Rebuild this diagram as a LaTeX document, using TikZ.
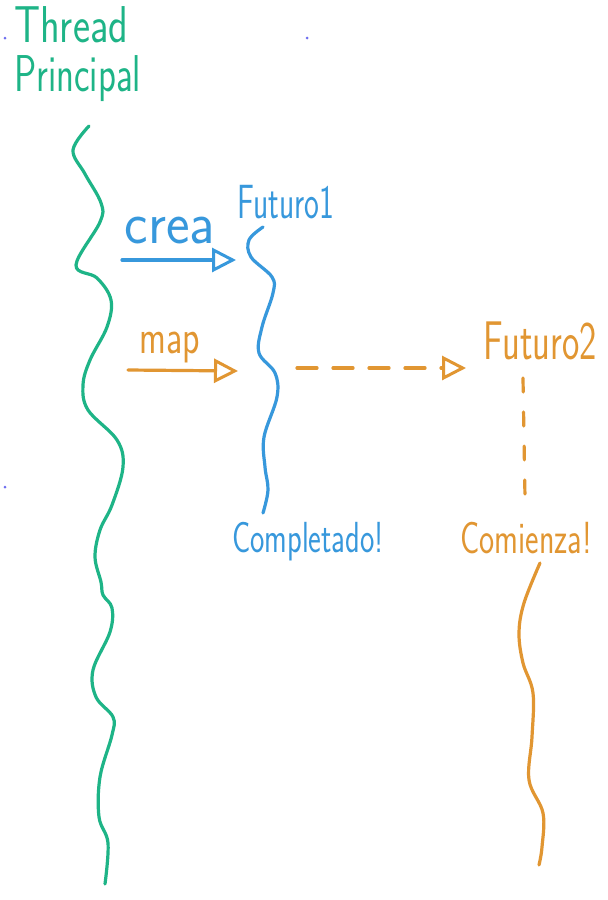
\documentclass[tikz,border=0pt]{standalone}
\usepackage{tikz}
\usetikzlibrary{arrows.meta}

\definecolor{hgreen}{RGB}{30,180,135}
\definecolor{hblue}{RGB}{55,152,220}
\definecolor{horange}{RGB}{225,150,50}
\definecolor{hdot}{RGB}{110,110,240}

% hand-drawn letters are narrow and tall
\newcommand{\handtext}[3]{\scalebox{#1}[#2]{#3}}

\begin{document}
\begin{tikzpicture}[x=1pt, y=-1pt,
    ink/.style={line width=3.2pt, line cap=round, line join=round},
    hand/.style={inner sep=0pt, font=\sffamily},
    opentip/.style={-{Triangle[open, length=24pt, width=24pt, line width=3pt]}},
    dashline/.style={dash pattern=on 20pt off 16pt}]
                \useasboundingbox[fill=white] (0,0) rectangle (608,900);

                % Nodes
                \node[hand, text=hgreen, anchor=north west, align=left, font=\sffamily\fontsize{37}{49}\selectfont] (main) at (14,6) {\handtext{1.1}{1.4}{Thread}\\\handtext{1}{1.4}{Principal}};
                \node[hand, text=hblue, font=\sffamily\fontsize{30}{36}\selectfont] (fut1) at (286,202) {\handtext{1.05}{1.6}{Futuro1}};
                \node[hand, text=hblue, font=\sffamily\fontsize{46}{56}\selectfont] (crea) at (170,231) {\handtext{1.22}{1.3}{crea}};
                \node[hand, text=horange, font=\sffamily\fontsize{36}{42}\selectfont] (map) at (170,347) {\handtext{1}{1.35}{map}};
                \node[hand, text=horange, font=\sffamily\fontsize{34}{40}\selectfont] (fut2) at (540,341) {\handtext{1.08}{1.6}{Futuro2}};
                \node[hand, text=hblue, font=\sffamily\fontsize{29}{34}\selectfont] (done) at (308,542) {\handtext{1.05}{1.5}{Completado!}};
                \node[hand, text=horange, font=\sffamily\fontsize{30}{36}\selectfont] (start) at (526,538) {\handtext{1.07}{1.5}{Comienza!}};

                \coordinate (creaA) at (122,260);
                \coordinate (creaB) at (236,260);
                \coordinate (mapA) at (128,370);
                \coordinate (mapB) at (238,371);
                \coordinate (dashA) at (297,368);
                \coordinate (dashB) at (466,368);
                \coordinate (downA) at (523,378);
                \coordinate (downB) at (525,498);

                % Threads
                \draw[ink, hgreen] plot[smooth, tension=0.6] coordinates {(89,126) (73,150) (85,174) (101,203) (100,222) (76,265) (97,278) (111,300) (107,327) (90,360) (83,385) (88,410) (117,440) (123,467) (112,505) (100,530) (95,557) (101,582) (103,595) (112,608) (110,632) (93,670) (96,697) (113,717) (112,735) (100,777) (99,817) (108,843) (105,884)};
                \draw[ink, hblue] plot[smooth, tension=0.6] coordinates {(263,227) (249,240) (251,257) (272,277) (273,293) (262,327) (259,353) (275,373) (277,397) (264,437) (265,467) (268,490) (263,513)};
                \draw[ink, horange] plot[smooth, tension=0.6] coordinates {(540,563) (524,603) (519,633) (523,663) (533,693) (532,737) (529,780) (543,813) (542,847) (539,865)};

                % Edges
                \draw[ink, hblue, opentip] (creaA) -- (creaB);
                \draw[ink, horange, opentip] (mapA) -- (mapB);
                \draw[ink, horange, opentip, dashline] (dashA) -- (dashB);
                \draw[ink, horange, dash pattern=on 14pt off 20pt] (downA) -- (downB);

                % Dots
                \fill[hdot] (5,38) circle (1.5);
                \fill[hdot] (307,38) circle (1.5);
                \fill[hdot] (5,487) circle (1.5);
            \end{tikzpicture}
\end{document}
